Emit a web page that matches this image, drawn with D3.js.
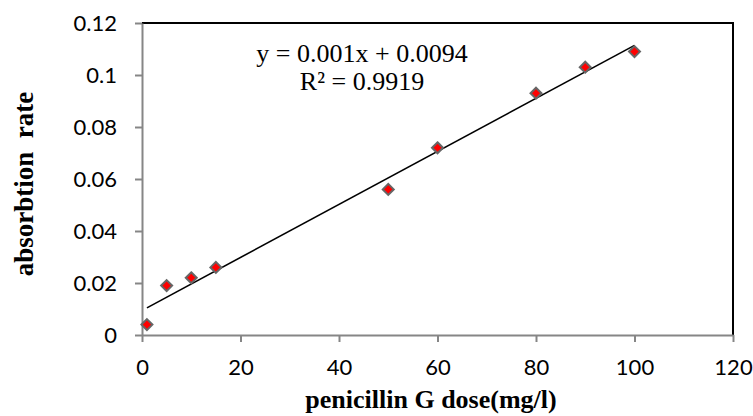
<!DOCTYPE html>
<html>
<head>
<meta charset="utf-8">
<script src="https://cdn.jsdelivr.net/npm/d3@7"></script>
<style>
  body { margin: 0; background: #fff; }
  .tick text { font-family: Lato, "Open Sans", sans-serif; font-size: 22px; fill: #000; }
</style>
</head>
<body>
<div id="chart"></div>
<script>
// penicillin G dose (mg/l) vs absorbtion rate
var dose = [1, 5, 10, 15, 50, 60, 80, 90, 100];
var absorb = [0.004, 0.019, 0.022, 0.026, 0.056, 0.072, 0.093, 0.103, 0.109];
var xTicks = [0, 20, 40, 60, 80, 100, 120];
var yTicks = [0, 0.02, 0.04, 0.06, 0.08, 0.1, 0.12];
var eqLines = ["y = 0.001x + 0.0094", "R\u00B2 = 0.9919"];

var margin = {top: 23, right: 20, bottom: 81, left: 142},
    W = 753, H = 416,
    width = W - margin.left - margin.right,
    height = H - margin.top - margin.bottom;

var svg = d3.select("#chart").append("svg")
    .attr("width", W)
    .attr("height", H);

var g = svg.append("g")
    .attr("transform", "translate(" + margin.left + "," + margin.top + ")");

var x = d3.scaleLinear().domain([0, 120]).range([0, width]);
var y = d3.scaleLinear().domain([0, 0.12]).range([height, 0]);

// plot area border (top + right black)
g.append("path")
    .attr("d", "M0,0H" + width + "V" + height)
    .attr("fill", "none")
    .attr("stroke", "#000")
    .attr("stroke-width", 2);

var xAxis = g.append("g")
    .attr("transform", "translate(0," + height + ")")
    .call(d3.axisBottom(x).tickValues(xTicks).tickSize(7).tickPadding(17).tickSizeOuter(0)
      .tickFormat(d3.format("d")));

var yAxis = g.append("g")
    .call(d3.axisLeft(y).tickValues(yTicks).tickSize(7).tickPadding(18).tickSizeOuter(0)
      .tickFormat(function(d) { return d === 0 ? "0" : +d.toFixed(2); }));

[xAxis, yAxis].forEach(function(a) {
  a.select(".domain").attr("stroke", "#868686").attr("stroke-width", 2);
  a.selectAll(".tick line").attr("stroke", "#868686").attr("stroke-width", 2);
});
xAxis.selectAll(".tick text").attr("dy", "0.71em");
yAxis.selectAll(".tick text").attr("dy", "0.35em");

// linear trendline (least squares through the points)
var mx = d3.mean(dose), my = d3.mean(absorb);
var sxy = d3.sum(dose, function(d, i) { return (d - mx) * (absorb[i] - my); });
var sxx = d3.sum(dose, function(d) { return (d - mx) * (d - mx); });
var slope = sxy / sxx, icpt = my - slope * mx;
var x0 = d3.min(dose), x1 = d3.max(dose);

g.append("line")
    .attr("x1", x(x0)).attr("y1", y(icpt + slope * x0))
    .attr("x2", x(x1)).attr("y2", y(icpt + slope * x1))
    .attr("stroke", "#000")
    .attr("stroke-width", 1.6);

// markers - red diamonds, grey outline
var r = 5.5;
g.selectAll(".pt")
    .data(dose)
  .enter().append("path")
    .attr("class", "pt")
    .attr("d", "M0," + (-r) + "L" + r + ",0L0," + r + "L" + (-r) + ",0Z")
    .attr("transform", function(d, i) { return "translate(" + x(d) + "," + y(absorb[i]) + ")"; })
    .attr("fill", "#ff0000")
    .attr("stroke", "#666")
    .attr("stroke-width", 2);

// equation label
svg.append("text")
    .attr("text-anchor", "middle")
    .style("font-family", "'Liberation Serif', 'Times New Roman', serif")
    .style("font-size", "26px")
    .selectAll("tspan")
    .data(eqLines)
  .enter().append("tspan")
    .attr("x", 362)
    .attr("y", function(d, i) { return i ? 90 : 62; })
    .text(function(d) { return d; });

// axis titles
svg.append("text")
    .attr("x", 431)
    .attr("y", 408)
    .attr("text-anchor", "middle")
    .style("font-family", "'Liberation Serif', 'Times New Roman', serif")
    .style("font-weight", "bold")
    .style("font-size", "26px")
    .text("penicillin G dose(mg/l)");

svg.append("text")
    .attr("transform", "translate(33,184) rotate(-90)")
    .attr("text-anchor", "middle")
    .attr("xml:space", "preserve")
    .style("white-space", "pre")
    .style("font-family", "'Liberation Serif', 'Times New Roman', serif")
    .style("font-weight", "bold")
    .style("font-size", "27px")
    .text("absorbtion  rate");
</script>
</body>
</html>
